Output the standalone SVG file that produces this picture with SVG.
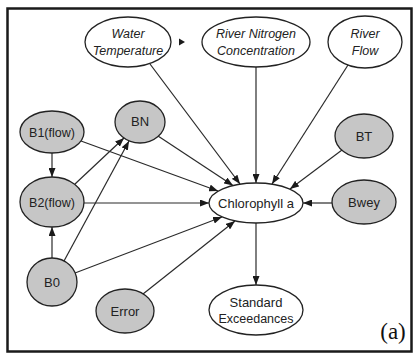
<svg xmlns="http://www.w3.org/2000/svg" width="414" height="357" viewBox="0 0 414 357">
<defs>
<marker id="ah" markerWidth="9" markerHeight="7" refX="9" refY="3.5" orient="auto" markerUnits="userSpaceOnUse">
<path d="M0,0 L9,3.5 L0,7 Z" fill="#1a1a1a"/>
</marker>
</defs>
<style>
.w{fill:#ffffff;stroke:#222;stroke-width:1.3}
.g{fill:#c6c6c6;stroke:#222;stroke-width:1.3}
.t{font-family:"Liberation Sans",Arial,sans-serif;font-size:13px;fill:#222;text-anchor:middle}
.it{font-style:italic;font-size:12.5px}
.e{stroke:#2a2a2a;stroke-width:1.2;fill:none;marker-end:url(#ah)}
</style>
<rect x="0" y="0" width="414" height="357" fill="#ffffff"/>
<rect x="7.5" y="8.5" width="404" height="343" fill="none" stroke="#1a1a1a" stroke-width="2.5"/>
<g id="connectors">
<line class="e" x1="150" y1="64" x2="240" y2="184"/>
<line class="e" x1="256" y1="67" x2="256" y2="183"/>
<line class="e" x1="348" y1="65" x2="272" y2="184"/>
<line class="e" x1="342" y1="150" x2="290" y2="189"/>
<line class="e" x1="332" y1="203" x2="303" y2="203"/>
<line class="e" x1="81" y1="141" x2="218" y2="191"/>
<line class="e" x1="158" y1="136" x2="233" y2="185.5"/>
<line class="e" x1="84" y1="203" x2="209" y2="203"/>
<line class="e" x1="75" y1="273" x2="222" y2="217"/>
<line class="e" x1="143" y1="294" x2="235" y2="221"/>
<line class="e" x1="52" y1="153" x2="52" y2="177"/>
<line class="e" x1="52" y1="258" x2="52" y2="227"/>
<line class="e" x1="75" y1="184" x2="124" y2="138"/>
<line class="e" x1="64" y1="261" x2="129" y2="141"/>
<line class="e" x1="256" y1="223" x2="256" y2="285"/>
<path d="M179,38.5 L185,42 L179,45.5 Z" fill="#1a1a1a"/>
</g>
<g id="water-temperature">
<ellipse class="w" cx="128" cy="42" rx="43" ry="25"/>
<text class="t it" x="128" y="38">Water</text>
<text class="t it" x="128" y="55">Temperature</text>
</g>
<g id="river-nitrogen">
<ellipse class="w" cx="256" cy="42" rx="54" ry="25"/>
<text class="t it" x="256" y="38">River Nitrogen</text>
<text class="t it" x="256" y="55">Concentration</text>
</g>
<g id="river-flow">
<ellipse class="w" cx="365" cy="42" rx="37" ry="26"/>
<text class="t it" x="365" y="38">River</text>
<text class="t it" x="365" y="55">Flow</text>
</g>
<g id="b1flow">
<ellipse class="g" cx="52" cy="132" rx="32" ry="21"/>
<text class="t" x="52" y="136.5" style="font-size:12.5px">B1(flow)</text>
</g>
<g id="bn">
<ellipse class="g" cx="140" cy="122" rx="25" ry="21"/>
<text class="t" x="140" y="126">BN</text>
</g>
<g id="bt">
<ellipse class="g" cx="364" cy="136" rx="29" ry="22"/>
<text class="t" x="364" y="140.5">BT</text>
</g>
<g id="b2flow">
<ellipse class="g" cx="52" cy="202" rx="32" ry="25"/>
<text class="t" x="52" y="207" style="font-size:12.5px">B2(flow)</text>
</g>
<g id="chlorophyll">
<ellipse class="w" cx="256" cy="203" rx="47" ry="20"/>
<text class="t" x="256" y="207.5">Chlorophyll a</text>
</g>
<g id="bwey">
<ellipse class="g" cx="364" cy="202" rx="32" ry="22"/>
<text class="t" x="364" y="207">Bwey</text>
</g>
<g id="b0">
<ellipse class="g" cx="52" cy="282" rx="25" ry="24"/>
<text class="t" x="52" y="287">B0</text>
</g>
<g id="error">
<ellipse class="g" cx="125" cy="311" rx="29" ry="22"/>
<text class="t" x="125" y="315.5">Error</text>
</g>
<g id="standard-exceedances">
<ellipse class="w" cx="256" cy="310" rx="47" ry="25"/>
<text class="t" x="256" y="307">Standard</text>
<text class="t" x="256" y="323" style="font-size:12.5px">Exceedances</text>
</g>
<text x="393" y="339" style="font-family:'Liberation Serif','Times New Roman',serif;font-size:23px;fill:#111;text-anchor:middle">(a)</text>
</svg>
